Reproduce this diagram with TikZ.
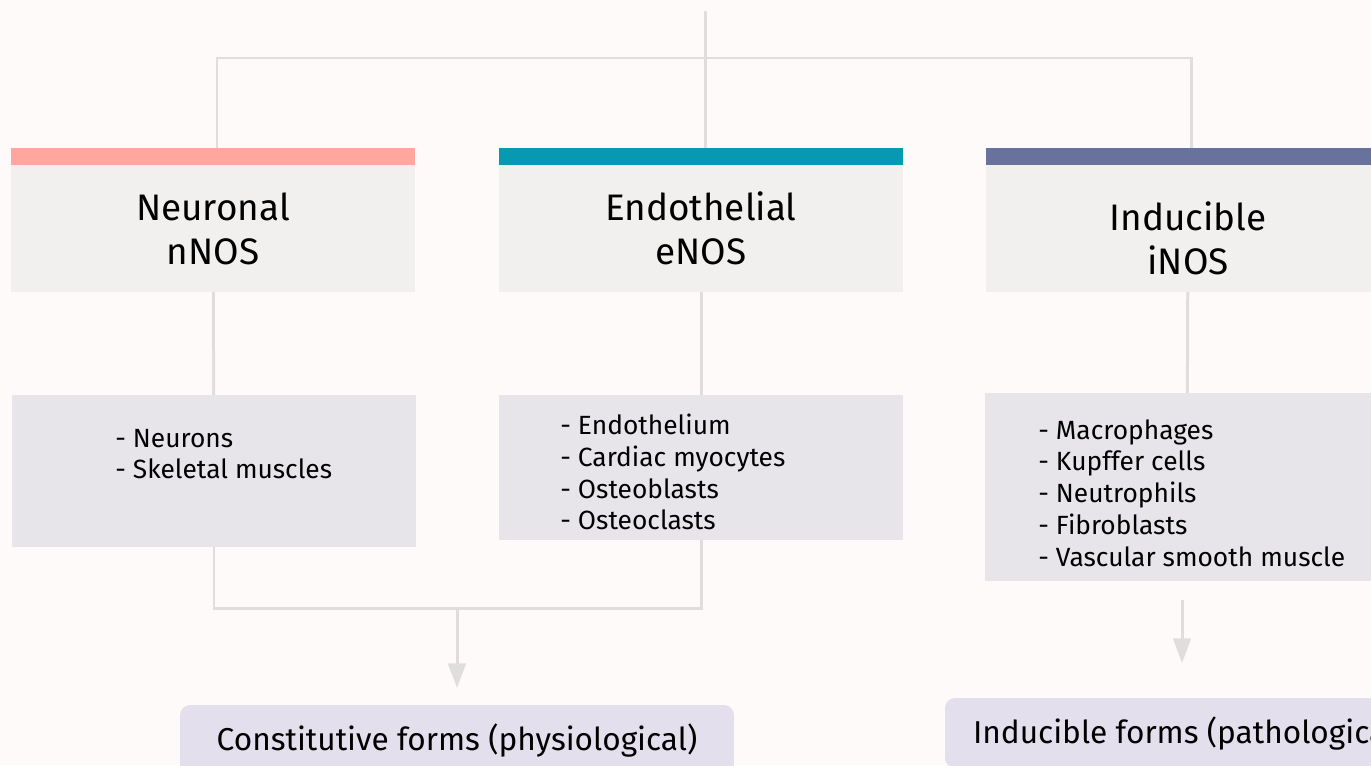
\documentclass[tikz,border=0pt]{standalone}
\usepackage{fontspec}
\setmainfont{Fira Sans}
\usetikzlibrary{arrows.meta}

\definecolor{pagebg}{HTML}{FEFAF9}
\definecolor{nbarcol}{HTML}{FFA69E}
\definecolor{ebarcol}{HTML}{0798B2}
\definecolor{ibarcol}{HTML}{68729C}
\definecolor{headgray}{HTML}{F2F0EF}
\definecolor{cellgray}{HTML}{E7E5EA}
\definecolor{formlilac}{HTML}{E3DFEC}
\definecolor{linegray}{HTML}{E0DEDD}

\begin{document}
\begin{tikzpicture}[x=0.02cm,y=-0.02cm]
  \tikzset{headbar/.style = {minimum width=8.08cm,minimum height=0.34cm,inner sep=0pt,outer sep=0pt}}
  \tikzset{headbox/.style = {fill=headgray,minimum width=8.08cm,minimum height=2.54cm,inner sep=0pt,outer sep=0pt,align=center,font=\fontsize{21}{25}\selectfont}}
  \tikzset{headtext/.style = {align=center,inner sep=0pt,font=\fontsize{21}{25}\selectfont}}
  \tikzset{cellbox/.style = {fill=cellgray,minimum width=8.08cm,inner sep=0pt,outer sep=0pt}}
  \tikzset{celltext/.style = {anchor=west,align=left,inner sep=0pt,font=\fontsize{15}{18.1}\selectfont}}
  \tikzset{formbox/.style = {fill=formlilac,rounded corners=0.2cm,minimum height=1.4cm,inner ysep=0pt,outer sep=0pt,font=\fontsize{18}{21}\selectfont}}
  \tikzset{link/.style = {draw=linegray,line width=1.7pt}}
  \tikzset{arrow/.style = {link,-{Triangle[width=10pt,length=14pt]}}}

  \clip (0,0) rectangle (1371,765);
  \fill[pagebg] (0,0) rectangle (1371,765);

  % heads
	\node[headbar,fill=nbarcol] (nbar) at (213,156.5) {};
	\node[headbar,fill=ebarcol] (ebar) at (701,156.5) {};
	\node[headbar,fill=ibarcol] (ibar) at (1188,156.5) {};
	\node[headbox] (nhead) at (213,228.5) {Neuronal\\nNOS};
	\node[headbox] (ehead) at (701,228.5) {Endothelial\\eNOS};
	\node[headbox,label={[headtext,yshift=-0.2cm]center:Inducible\\iNOS}] (ihead) at (1188,228.5) {};

  % cells
	\node[cellbox,minimum height=3.04cm] (ncell) at (214,471) {};
	\node[cellbox,minimum height=2.9cm] (ecell) at (701,467.5) {};
	\node[cellbox,minimum height=3.76cm] (icell) at (1187,487) {};
	\node[celltext] (nlist) at (115,454) {- Neurons\\- Skeletal muscles};
	\node[celltext] (elist) at (560,472) {- Endothelium\\- Cardiac myocytes\\- Osteoblasts\\- Osteoclasts};
	\node[celltext] (ilist) at (1038,493) {- Macrophages\\- Kupffer cells\\- Neutrophils\\- Fibroblasts\\- Vascular smooth muscle};

  % forms
	\node[formbox,minimum width=11.08cm] (cform) at (457,740) {Constitutive forms (physiological)};
	\node[formbox,anchor=west,inner xsep=0.56cm] (iform) at (945,733) {Inducible forms (pathological)};

  % links
	\coordinate (top) at (705,11);
	\coordinate (split) at (705,58);
	\coordinate (join) at (457,608);
	\draw[link] (top) -- (split) -- (ebar.north -| split);
	\draw[link] ([xshift=0.08cm]nbar.north) |- (split) -| ([xshift=0.06cm]ibar.north);
       \foreach \from/\to in {nhead/ncell, ehead/ecell, ihead/icell}
    \draw[link] (\from) -- (\to);
	\draw[link] (ncell.south) |- (join) -| (ecell.south);
	\draw[arrow,shorten >=0.34cm] (join) -- (cform.north);
	\draw[arrow,shorten <=0.38cm,shorten >=0.7cm] ([xshift=-0.1cm]icell.south) -- ([xshift=-0.1cm]icell.south |- iform.north);
\end{tikzpicture}
\end{document}
